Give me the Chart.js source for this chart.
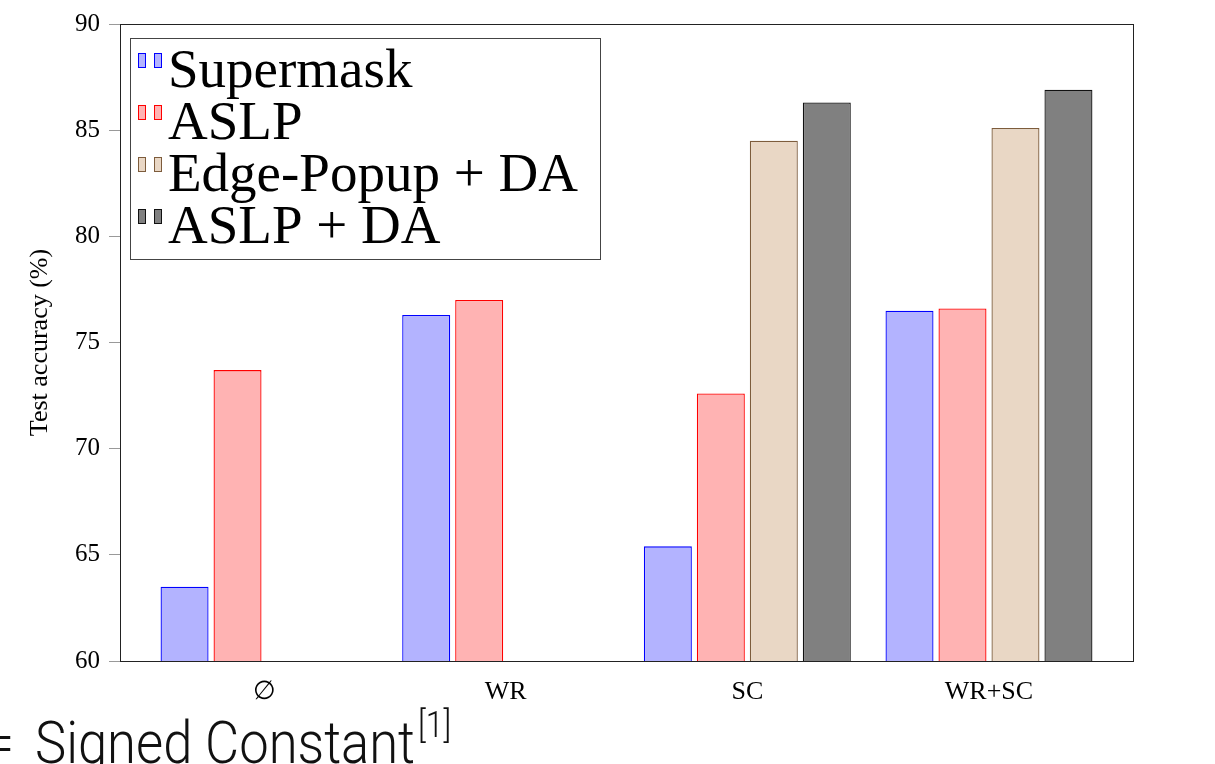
<!DOCTYPE html>
<html>
<head>
<meta charset="utf-8">
<script src="https://cdn.jsdelivr.net/npm/chart.js@4.4.1/dist/chart.umd.min.js"></script>
<style>
  html, body { margin: 0; padding: 0; background: #fff; overflow: hidden; }
  #wrap { width: 1215px; height: 764px; }
</style>
</head>
<body>
<div id="wrap"><canvas id="accChart" width="1215" height="764"></canvas></div>
<script>
const categories  = ["\u2205", "WR", "SC", "WR+SC"];
const supermask   = [63.5, 76.3, 65.4, 76.5];
const aslp        = [73.7, 77.0, 72.6, 76.6];
const edgePopupDA = [null, null, 84.5, 85.1];
const aslpDA      = [null, null, 86.3, 86.9];
const yTicks      = [60, 65, 70, 75, 80, 85, 90];

const SERIF = "'Liberation Serif', 'DejaVu Serif', serif";

function pts(values) {
    return values.map((v, i) => ({ x: i, y: v }));
}

// frame around the plot area
const framePlugin = {
    id: "frame",
    afterDatasetsDraw(chart) {
        const a = chart.chartArea, ctx = chart.ctx;
        ctx.save();
        ctx.strokeStyle = "#222";
        ctx.lineWidth = 1;
        ctx.strokeRect(Math.round(a.left) + 0.5, Math.round(a.top) + 0.5,
                       Math.round(a.right - a.left), Math.round(a.bottom - a.top));
        ctx.restore();
    }
};

// pgfplots-like legend box, two little bars per entry
const legendPlugin = {
    id: "boxLegend",
    afterDraw(chart) {
        const ctx = chart.ctx;
        ctx.save();
        ctx.strokeStyle = "#444";
        ctx.lineWidth = 1;
        ctx.fillStyle = "#fff";
        ctx.fillRect(130.5, 38.5, 470, 221);
        ctx.strokeRect(130.5, 38.5, 470, 221);
        ctx.font = "55px " + SERIF;
        ctx.textBaseline = "alphabetic";
        chart.data.datasets.forEach((ds, i) => {
            const base = 87 + i * 52;
            [138, 154].forEach(x => {
                ctx.fillStyle = ds.backgroundColor;
                ctx.fillRect(x + 0.5, base - 34 + 0.5, 7, 14);
                ctx.strokeStyle = ds.borderColor;
                ctx.strokeRect(x + 0.5, base - 34 + 0.5, 7, 14);
            });
            ctx.fillStyle = "#000";
            ctx.fillText(ds.label, 168, base);
        });
        ctx.restore();
    }
};

// caption cut by the bottom edge
const captionPlugin = {
    id: "caption",
    afterDraw(chart) {
        const ctx = chart.ctx;
        ctx.save();
        ctx.fillStyle = "#111";
        ctx.font = "300 59px Roboto";
        const w = ctx.measureText("Signed Constant").width;
        const sx = 380 / w;
        ctx.translate(35, 763);
        ctx.scale(sx, 1);
        ctx.textAlign = "left";
        ctx.fillText("Signed Constant", 0, 0);
        ctx.textAlign = "right";
        ctx.fillText("=", (14 - 35) / sx, 0);
        ctx.textAlign = "left";
        ctx.font = "300 36px Roboto";
        ctx.fillText("[1]", w + 3 / sx, -26);
        ctx.restore();
    }
};

new Chart(document.getElementById("accChart"), {
    type: "bar",
    data: {
        datasets: [
            {
                label: "Supermask",
                data: pts(supermask),
                backgroundColor: "rgb(179,179,255)",
                borderColor: "#0000ff",
                borderWidth: 1.3
            },
            {
                label: "ASLP",
                data: pts(aslp),
                backgroundColor: "rgb(255,179,179)",
                borderColor: "#ff0000",
                borderWidth: 1.3
            },
            {
                label: "Edge-Popup + DA",
                data: pts(edgePopupDA),
                backgroundColor: "rgb(233,215,197)",
                borderColor: "#7d5c3c",
                borderWidth: 1.3
            },
            {
                label: "ASLP + DA",
                data: pts(aslpDA),
                backgroundColor: "rgb(128,128,128)",
                borderColor: "#111",
                borderWidth: 1.3
            }
        ]
    },
    options: {
        responsive: false,
        animation: false,
        devicePixelRatio: 1,
        categoryPercentage: 0.877,
        barPercentage: 0.906,
        layout: { padding: { left: 0, right: 82, top: 24, bottom: 0 } },
        plugins: {
            legend: { display: false },
            tooltip: { enabled: false }
        },
        scales: {
            x: {
                type: "linear",
                offset: false,
                min: -0.596,
                max: 3.596,
                afterBuildTicks: s => { s.ticks = categories.map((c, i) => ({ value: i })); },
                afterFit: s => { s.height = 103; },
                grid: { display: false },
                border: { display: false },
                ticks: {
                    color: "#000",
                    font: { family: SERIF, size: 26 },
                    padding: 8,
                    maxRotation: 0,
                    callback: v => categories[v]
                }
            },
            y: {
                min: 60,
                max: 90,
                afterBuildTicks: s => { s.ticks = yTicks.map(v => ({ value: v })); },
                afterFit: s => { s.width = 120; },
                grid: {
                    drawOnChartArea: false,
                    color: "#999",
                    tickLength: 11
                },
                border: { display: false },
                ticks: {
                    color: "#000",
                    font: { family: SERIF, size: 25 },
                    padding: 9
                },
                title: {
                    display: true,
                    text: "Test accuracy (%)",
                    color: "#000",
                    font: { family: SERIF, size: 26 },
                    padding: { top: 25, bottom: 0 }
                }
            }
        }
    },
    plugins: [framePlugin, legendPlugin, captionPlugin]
});
</script>
</body>
</html>
